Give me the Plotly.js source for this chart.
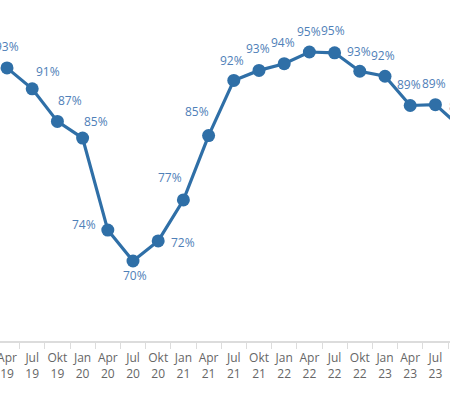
<!DOCTYPE html>
<html>
<head>
<meta charset="utf-8">
<script src="https://cdn.plot.ly/plotly-3.0.1.min.js"></script>
<style>
  html, body { margin: 0; padding: 0; width: 450px; height: 395px; overflow: hidden; background: #fff; }
  #chart { position: absolute; left: -30px; top: 0; width: 530px; height: 395px; }
</style>
</head>
<body>
<div id="chart"></div>
<script>
// Quarters (label month, label year)
const quarters = ["Apr", "Jul", "Okt", "Jan", "Apr", "Jul", "Okt", "Jan", "Apr", "Jul", "Okt", "Jan", "Apr", "Jul", "Okt", "Jan", "Apr", "Jul", "Okt"];
const years    = ["19", "19", "19", "20", "20", "20", "20", "21", "21", "21", "21", "22", "22", "22", "22", "23", "23", "23", "23"];
// Share in percent
const values   = [93.1, 90.6, 86.7, 84.7, 73.7, 70.0, 72.4, 77.3, 85.0, 91.6, 92.8, 93.6, 95.0, 94.9, 92.7, 92.1, 88.6, 88.7, 86.0];

// label offsets (style) in px: [dx, dy] relative to the point, dy positive = down
const labelOffsets = [
  [0,-21],[16,-17],[13,-21],[13,-17],[-24,-6],[2,14],[25,2],[-13,-22],[-12,-24],
  [-2,-20],[-1,-22],[-1,-21],[0,-21],[-2,-22],[-1,-20],[-2,-21],[-1,-21],[-1,-21],[0,-21]
];

const idx = values.map((_, i) => i);
const tickText = quarters.map((q, i) => q + "<br>" + years[i]);

const lineColor = "#2f6fa7";
const textColor = "#4f80b8";

const trace = {
  x: idx,
  y: values,
  type: "scatter",
  mode: "lines+markers",
  line: { color: lineColor, width: 3.2 },
  marker: { color: lineColor, size: 13 },
  hoverinfo: "skip"
};

const annotations = values.map((v, i) => ({
  x: i, y: v, xref: "x", yref: "y",
  text: Math.round(v) + "%",
  showarrow: false,
  xanchor: "center", yanchor: "middle",
  xshift: labelOffsets[i][0], yshift: -labelOffsets[i][1],
  font: { family: "Open Sans, sans-serif", size: 12, color: textColor }
}));

const pxPerCat = 25.2;
const divW = 530;
const x0 = -37 / pxPerCat;
const layout = {
  width: divW, height: 395,
  margin: { l: 0, r: 0, t: 0, b: 54 },
  paper_bgcolor: "#fff", plot_bgcolor: "#fff",
  showlegend: false,
  xaxis: {
    range: [x0, x0 + divW / pxPerCat],
    tickmode: "array", tickvals: idx, ticktext: tickText,
    ticks: "", showgrid: false, zeroline: false,
    ticklabelstandoff: 5,
    ticklabeloverflow: "allow",
    showline: true, linecolor: "#dcdcdc", linewidth: 2,
    tickfont: { family: "Open Sans, sans-serif", size: 12, color: "#666666" },
    minor: { tick0: 0.5, dtick: 1, ticks: "outside", ticklen: 6, tickcolor: "#dcdcdc", tickwidth: 1, showgrid: false }
  },
  yaxis: {
    range: [60.43, 101.22],
    visible: false, showgrid: false, zeroline: false
  },
  annotations: annotations
};

Plotly.newPlot("chart", [trace], layout, { staticPlot: true, displayModeBar: false });
</script>
</body>
</html>
